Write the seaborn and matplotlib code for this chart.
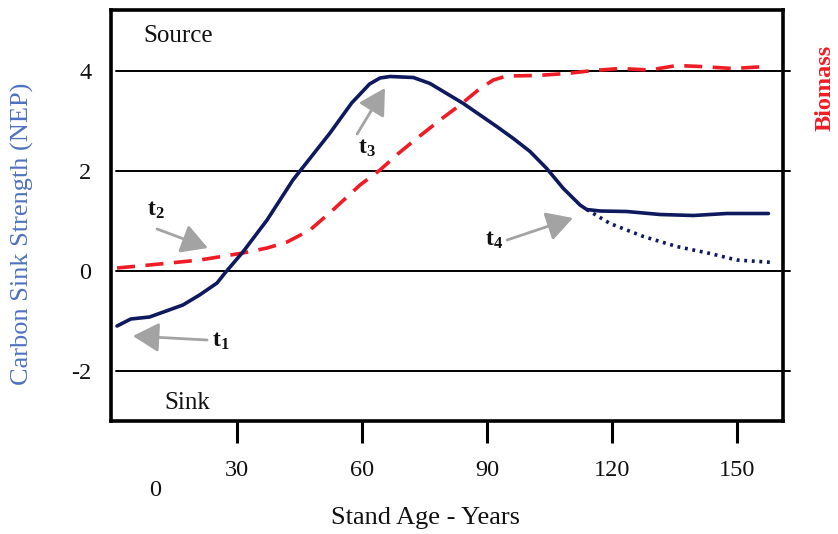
import matplotlib
matplotlib.use("Agg")
import matplotlib.pyplot as plt
import seaborn as sns
import pandas as pd

# ---------------- data ----------------
nep_age = [1.2, 4.5, 9.0, 13.0, 17.0, 21.0, 25.2, 27.1, 31.4, 37.2, 43.4, 52.3, 57.5, 61.8,
           64.3, 66.7, 72.3, 76.3, 80.3, 84.3, 88.3, 92.3, 96.3, 100.3, 104.3, 108.3,
           112.3, 113.9, 117.1, 123.5, 131.5, 139.5, 147.5, 157.5]
nep_val = [-1.10, -0.96, -0.92, -0.80, -0.68, -0.48, -0.24, -0.04, 0.38, 1.02, 1.82, 2.76, 3.36, 3.74,
           3.86, 3.89, 3.87, 3.75, 3.55, 3.35, 3.12, 2.89, 2.65, 2.39, 2.05, 1.65,
           1.32, 1.23, 1.20, 1.19, 1.13, 1.11, 1.15, 1.15]

alt_age = [113.9, 119.5, 127.5, 135.5, 143.5, 149.9, 158.7]
alt_val = [1.23, 0.95, 0.69, 0.49, 0.35, 0.22, 0.17]

bio_age = [1.2, 9.0, 21.1, 31.4, 37.2, 42.0, 47.5, 53.0, 59.5, 64.3, 68.7, 73.1, 78.7,
           83.5, 88.3, 91.5, 94.7, 101.9, 109.1, 115.5, 121.9, 129.1, 135.5, 141.1, 149.0, 157.1]
bio_val = [0.06, 0.12, 0.22, 0.36, 0.46, 0.58, 0.82, 1.22, 1.72, 2.02, 2.35, 2.65, 3.02,
           3.32, 3.65, 3.82, 3.90, 3.91, 3.95, 4.01, 4.05, 4.02, 4.11, 4.09, 4.05, 4.09]

x_ticks = [30, 60, 90, 120, 150]
y_ticks = [-2, 0, 2, 4]
y_tick_labels = ["-2", "0", "2", "4"]

# annotations: label, text position, arrow tail, arrow head
notes = [
    ("1", (24.0, -1.40), (22.8, -1.38), (5.0, -1.30)),
    ("2", (8.4, 1.22), (10.8, 0.84), (23.0, 0.46)),
    ("3", (59.0, 2.46), (58.8, 2.74), (65.5, 3.66)),
    ("4", (89.5, 0.62), (94.8, 0.62), (110.6, 1.06)),
]

# ---------------- style ----------------
sns.set_theme(style="white")
plt.rcParams["font.family"] = ["Liberation Serif", "DejaVu Serif"]
plt.rcParams["mathtext.fontset"] = "custom"
plt.rcParams["mathtext.rm"] = "Liberation Serif"
plt.rcParams["mathtext.bf"] = "Liberation Serif:bold"
plt.rcParams["mathtext.it"] = "Liberation Serif:italic"

NAVY = "#0f1a5e"
RED = "#ee1c25"
GREY = "#a3a3a3"
BLUE = "#4f72c0"

W, H = 838, 534
fig = plt.figure(figsize=(W / 100, H / 100), dpi=100)
ax = fig.add_axes([111 / W, 1 - 421 / H, (783 - 111) / W, (421 - 10) / H])

nep_df = pd.DataFrame({"age": nep_age, "nep": nep_val})
alt_df = pd.DataFrame({"age": alt_age, "nep": alt_val})
bio_df = pd.DataFrame({"age": bio_age, "bio": bio_val})

# grid lines
for yv in y_ticks:
    ax.axhline(yv, xmin=0.007, xmax=1.011, color="black", lw=1.4, clip_on=False, zorder=1)

sns.lineplot(data=bio_df, x="age", y="bio", ax=ax, color=RED, lw=2.6,
             linestyle=(0, (5.0, 2.9)), errorbar=None, zorder=3)
sns.lineplot(data=alt_df, x="age", y="nep", ax=ax, color=NAVY, lw=2.6,
             linestyle=(0, (0.8, 1.3)), errorbar=None, zorder=3)
sns.lineplot(data=nep_df, x="age", y="nep", ax=ax, color=NAVY, lw=2.6,
             errorbar=None, zorder=4)
for ln in ax.get_lines():
    ln.set_solid_joinstyle("round")

ax.set_xlim(-0.25, 161)
ax.set_ylim(-3.0, 5.22)
ax.set_xlabel("")
ax.set_ylabel("")

ax.set_xticks(x_ticks)
ax.set_xticklabels([str(v) for v in x_ticks])
ax.set_yticks(y_ticks)
ax.set_yticklabels(y_tick_labels)
ax.tick_params(axis="x", direction="out", length=16, width=2.2, color="black",
               pad=12, labelsize=17.5, labelcolor="#111111", bottom=True)
ax.tick_params(axis="y", length=0, pad=14, labelsize=17.5, labelcolor="#111111", left=True)

for s in ax.spines.values():
    s.set_visible(True)
    s.set_color("black")
    s.set_linewidth(2.6)

ax.text(7.4, 4.7, "Source", fontsize=18, va="center", ha="left", color="#111111")
ax.text(12.5, -2.64, "Sink", fontsize=18, va="center", ha="left", color="#111111")

for sub, tpos, tail, head in notes:
    ax.text(tpos[0], tpos[1], r"$\mathbf{t}_{\mathbf{" + sub + "}}$", fontsize=17,
            va="center", ha="left", color="#111111")
    ax.annotate("", xy=head, xytext=tail,
                arrowprops=dict(arrowstyle="-|>,head_length=0.8,head_width=0.45",
                                color=GREY, lw=2.0, mutation_scale=20,
                                shrinkA=0, shrinkB=0))

fig.text(155 / W, 1 - 490 / H, "0", fontsize=17.5, ha="center", va="center", color="#111111")
fig.text(425 / W, 1 - 518 / H, "Stand Age - Years", fontsize=19, ha="center", va="center",
         color="#111111")
fig.text(22 / W, 1 - 234 / H, "Carbon Sink Strength (NEP)", fontsize=19, rotation=90,
         ha="center", va="center", color=BLUE)
fig.text(825 / W, 1 - 88 / H, "Biomass", fontsize=17.5, fontweight="bold", rotation=90,
         ha="center", va="center", color=RED)

fig.savefig("out.png", dpi=100)
